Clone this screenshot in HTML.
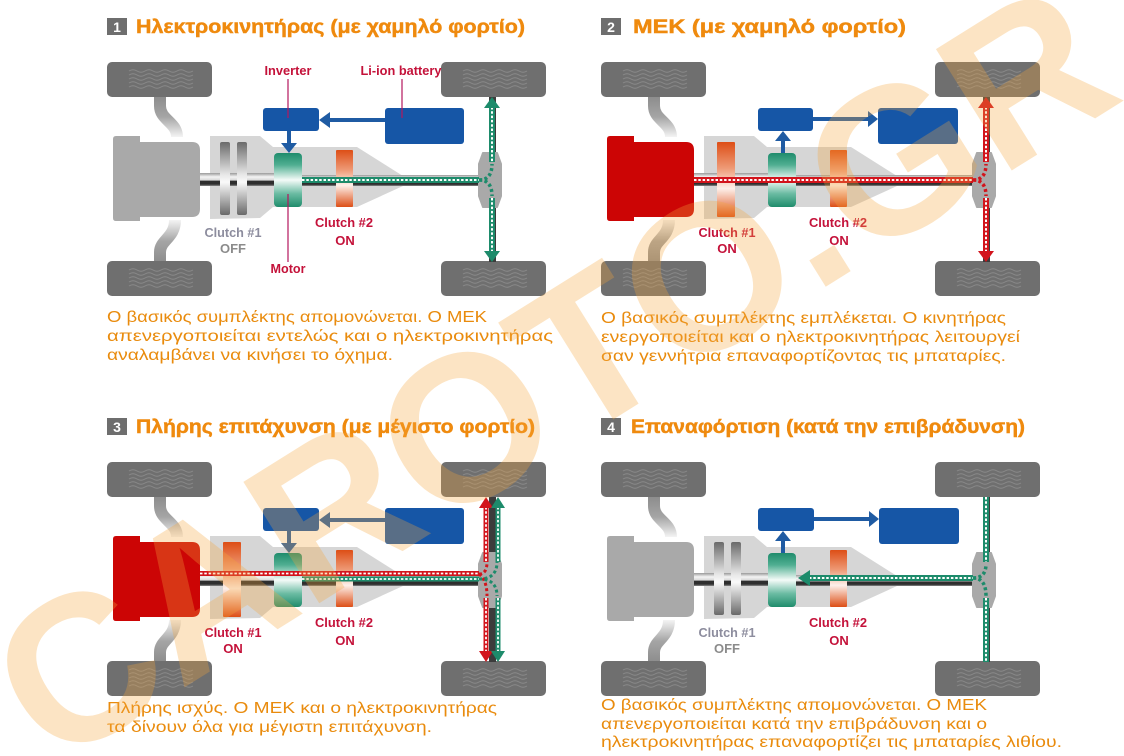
<!DOCTYPE html>
<html><head><meta charset="utf-8">
<style>
html,body{margin:0;padding:0;background:#fff;width:1124px;height:756px;overflow:hidden;}
svg{display:block;}
.t{font-family:"Liberation Sans",sans-serif;font-weight:bold;fill:#ef8a0e;stroke:#ef8a0e;stroke-width:0.45;font-size:19px;}
.p{font-family:"Liberation Sans",sans-serif;fill:#e98b0d;font-size:15.5px;}
.n{font-family:"Liberation Sans",sans-serif;font-weight:bold;fill:#fff;font-size:14px;}
.lb{font-family:"Liberation Sans",sans-serif;font-weight:bold;font-size:13px;}
.lr{fill:#c4123a;}
.lg{fill:#8d8d9e;}
</style></head><body>
<svg width="1124" height="756" viewBox="0 0 1124 756" xmlns="http://www.w3.org/2000/svg" xmlns:xlink="http://www.w3.org/1999/xlink">
<defs>
 <linearGradient id="gTeal" x1="0" y1="0" x2="0" y2="1">
  <stop offset="0" stop-color="#1f8c6c"/>
  <stop offset="0.22" stop-color="#4fae91"/>
  <stop offset="0.5" stop-color="#f4fbf8"/>
  <stop offset="0.75" stop-color="#6cbca3"/>
  <stop offset="1" stop-color="#1f8c6c"/>
 </linearGradient>
 <linearGradient id="gOr" x1="0" y1="0" x2="0" y2="1">
  <stop offset="0" stop-color="#dd4e16"/>
  <stop offset="0.35" stop-color="#ee9a76"/>
  <stop offset="0.62" stop-color="#fdf0ea"/>
  <stop offset="1" stop-color="#dd4e16"/>
 </linearGradient>
 <linearGradient id="gBar" x1="0" y1="0" x2="0" y2="1">
  <stop offset="0" stop-color="#6a6a6a"/>
  <stop offset="0.45" stop-color="#e8e8e8"/>
  <stop offset="0.55" stop-color="#fafafa"/>
  <stop offset="1" stop-color="#6a6a6a"/>
 </linearGradient>
 <linearGradient id="gTube" x1="0" y1="0" x2="0" y2="1">
  <stop offset="0" stop-color="#9a9a9a"/>
  <stop offset="0.3" stop-color="#f4f4f4"/>
  <stop offset="0.55" stop-color="#d8d8d8"/>
  <stop offset="0.62" stop-color="#2e2e2e"/>
  <stop offset="0.85" stop-color="#2e2e2e"/>
  <stop offset="1" stop-color="#8a8a8a"/>
 </linearGradient>
 <linearGradient id="gLT" gradientUnits="userSpaceOnUse" x1="0" y1="35" x2="0" y2="75">
  <stop offset="0" stop-color="#8d8d8d"/>
  <stop offset="0.5" stop-color="#a5a5a5"/>
  <stop offset="1" stop-color="#f4f4f4"/>
 </linearGradient>
 <linearGradient id="gLB" gradientUnits="userSpaceOnUse" x1="0" y1="158" x2="0" y2="200">
  <stop offset="0" stop-color="#f4f4f4"/>
  <stop offset="0.5" stop-color="#a5a5a5"/>
  <stop offset="1" stop-color="#8d8d8d"/>
 </linearGradient>
 <g id="wheel">
  <rect width="105" height="35" rx="5" fill="#6f6f6f"/>
  <path d="M22,9 q4,-2.5 8,0 t8,0 t8,0 t8,0 t8,0 t8,0 t8,0 t8,0 M22,13 q4,-2.5 8,0 t8,0 t8,0 t8,0 t8,0 t8,0 t8,0 t8,0 M22,17 q4,-2.5 8,0 t8,0 t8,0 t8,0 t8,0 t8,0 t8,0 t8,0 M22,21 q4,-2.5 8,0 t8,0 t8,0 t8,0 t8,0 t8,0 t8,0 t8,0 M22,25 q4,-2.5 8,0 t8,0 t8,0 t8,0 t8,0 t8,0 t8,0 t8,0" stroke="#8a8a8a" stroke-width="1" fill="none"/>
 </g>
 <g id="base">
  <path d="M53,35 L53,44 C53,58 70,60 70,75" fill="none" stroke="url(#gLT)" stroke-width="12"/>
  <path d="M68,158 C68,176 53,178 53,190 L53,200" fill="none" stroke="url(#gLB)" stroke-width="12"/>
  <use xlink:href="#wheel" x="0" y="0"/>
  <use xlink:href="#wheel" x="0" y="199"/>
  <use xlink:href="#wheel" x="334" y="0"/>
  <use xlink:href="#wheel" x="334" y="199"/>
  <polygon points="103,74 153,74 166,85 250,85 296,114 296,124 250,145 166,145 153,156 103,157" fill="#d6d6d6"/>
  <rect x="92" y="111" width="80" height="13" fill="url(#gTube)"/>
  <rect x="190" y="113" width="190" height="11" fill="url(#gTube)"/>
  <rect x="382" y="35" width="7" height="165" fill="#3c3c3c"/>
  <path d="M376,91 L390,91 L394,102 L394,134 L390,145 L376,145 L372,134 L372,102 Z" fill="#a9a9a9" stroke="#a9a9a9" stroke-width="2" stroke-linejoin="round"/>
 </g>
 <path id="engine" d="M9,74 L33,74 L33,80 L85,80 Q93,80 93,88 L93,147 Q93,155 85,155 L33,155 L33,159 L9,159 Q6,159 6,156 L6,77 Q6,74 9,74 Z"/>
</defs>

<!-- Titles -->
<rect x="107" y="18" width="20" height="17" fill="#6e6e6e"/><text class="n" x="117" y="32" text-anchor="middle">1</text>
<text class="t" x="136" y="33" textLength="389" lengthAdjust="spacingAndGlyphs">Ηλεκτροκινητήρας (με χαμηλό φορτίο)</text>
<rect x="601" y="18" width="20" height="17" fill="#6e6e6e"/><text class="n" x="611" y="32" text-anchor="middle">2</text>
<text class="t" x="633" y="33" textLength="273" lengthAdjust="spacingAndGlyphs">ΜΕΚ (με χαμηλό φορτίο)</text>
<rect x="107" y="418" width="20" height="17" fill="#6e6e6e"/><text class="n" x="117" y="432" text-anchor="middle">3</text>
<text class="t" x="136" y="433" textLength="399" lengthAdjust="spacingAndGlyphs">Πλήρης επιτάχυνση (με μέγιστο φορτίο)</text>
<rect x="601" y="418" width="20" height="17" fill="#6e6e6e"/><text class="n" x="611" y="432" text-anchor="middle">4</text>
<text class="t" x="631" y="433" textLength="394" lengthAdjust="spacingAndGlyphs">Επαναφόρτιση (κατά την επιβράδυνση)</text>

<!-- Paragraphs -->
<text class="p" x="107" y="322" textLength="380" lengthAdjust="spacingAndGlyphs">Ο βασικός συμπλέκτης απομονώνεται. Ο ΜΕΚ</text>
<text class="p" x="107" y="341" textLength="446" lengthAdjust="spacingAndGlyphs">απενεργοποιείται εντελώς και ο ηλεκτροκινητήρας</text>
<text class="p" x="107" y="360" textLength="286" lengthAdjust="spacingAndGlyphs">αναλαμβάνει να κινήσει το όχημα.</text>

<text class="p" x="601" y="323" textLength="405" lengthAdjust="spacingAndGlyphs">Ο βασικός συμπλέκτης εμπλέκεται. Ο κινητήρας</text>
<text class="p" x="601" y="342" textLength="419" lengthAdjust="spacingAndGlyphs">ενεργοποιείται και ο ηλεκτροκινητήρας λειτουργεί</text>
<text class="p" x="601" y="361" textLength="405" lengthAdjust="spacingAndGlyphs">σαν γεννήτρια επαναφορτίζοντας τις μπαταρίες.</text>

<text class="p" x="107" y="713" textLength="390" lengthAdjust="spacingAndGlyphs">Πλήρης ισχύς. Ο ΜΕΚ και ο ηλεκτροκινητήρας</text>
<text class="p" x="107" y="732" textLength="325" lengthAdjust="spacingAndGlyphs">τα δίνουν όλα για μέγιστη επιτάχυνση.</text>

<text class="p" x="601" y="710" textLength="386" lengthAdjust="spacingAndGlyphs">Ο βασικός συμπλέκτης απομονώνεται. Ο ΜΕΚ</text>
<text class="p" x="601" y="729" textLength="386" lengthAdjust="spacingAndGlyphs">απενεργοποιείται κατά την επιβράδυνση και ο</text>
<text class="p" x="601" y="747" textLength="461" lengthAdjust="spacingAndGlyphs">ηλεκτροκινητήρας επαναφορτίζει τις μπαταρίες λιθίου.</text>

<!-- Panel 1 -->
<g transform="translate(107,62)">
 <use xlink:href="#base"/>
 <use xlink:href="#engine" fill="#a9a9a9"/>
 <rect x="113" y="80" width="10" height="73" rx="2" fill="url(#gBar)"/>
 <rect x="130" y="80" width="10" height="73" rx="2" fill="url(#gBar)"/>
 <rect x="167" y="91" width="28" height="54" rx="4" fill="url(#gTeal)"/>
 <rect x="229" y="88" width="17" height="57" rx="1" fill="url(#gOr)"/>
 <path d="M195,118 H372" stroke="#1d8b6b" stroke-width="6"/>
 <path d="M195,118 H372" stroke="#fff" stroke-width="2" stroke-dasharray="2.5 1.8"/>
 <path d="M372,118 Q385,118 385,102 M372,118 Q385,118 385,134" fill="none" stroke="#1d8b6b" stroke-width="3.5" stroke-dasharray="3 2.5"/>
 <path d="M385,45 V100 M385,136 V190" stroke="#1d8b6b" stroke-width="6"/>
 <path d="M385,45 V100 M385,136 V190" stroke="#fff" stroke-width="2" stroke-dasharray="2.5 1.8"/>
 <polygon points="385,35 377,46 393,46" fill="#1d8b6b"/>
 <polygon points="385,200 377,189 393,189" fill="#1d8b6b"/>
 <rect x="156" y="46" width="56" height="23" rx="3" fill="#1656a6"/>
 <rect x="278" y="46" width="79" height="36" rx="3" fill="#1656a6"/>
 <path d="M278,58 H222" stroke="#1f5ba3" stroke-width="4"/>
 <polygon points="212,58 223,50 223,66" fill="#1f5ba3"/>
 <path d="M182,69 V82" stroke="#1f5ba3" stroke-width="4"/>
 <polygon points="182,91 174,81 190,81" fill="#1f5ba3"/>
 <path d="M181,17 V56 M295,17 V56 M181,132 V200" stroke="#b5175e" stroke-width="1.2"/>
 <text class="lb lr" x="181" y="13" text-anchor="middle" font-size="12.5" textLength="47" lengthAdjust="spacingAndGlyphs">Inverter</text>
 <text class="lb lr" x="294" y="13" text-anchor="middle" font-size="12.5" textLength="81" lengthAdjust="spacingAndGlyphs">Li-ion battery</text>
 <text class="lb lr" x="181" y="211" text-anchor="middle" font-size="12.5" textLength="35" lengthAdjust="spacingAndGlyphs">Motor</text>
 <text class="lb lg" x="126" y="175" text-anchor="middle" textLength="57" lengthAdjust="spacingAndGlyphs">Clutch #1</text>
 <text class="lb" x="126" y="191" text-anchor="middle" font-size="16" fill="#8b8b8b">OFF</text>
 <text class="lb lr" x="237" y="165" text-anchor="middle" textLength="58" lengthAdjust="spacingAndGlyphs">Clutch #2</text>
 <text class="lb lr" x="238" y="183" text-anchor="middle" font-size="16">ON</text>
</g>

<!-- Panel 2 -->
<g transform="translate(601,62)">
 <use xlink:href="#base"/>
 <use xlink:href="#engine" fill="#cc0505"/>
 <rect x="116" y="80" width="18" height="75" rx="1" fill="url(#gOr)"/>
 <rect x="167" y="91" width="28" height="54" rx="4" fill="url(#gTeal)"/>
 <rect x="229" y="88" width="17" height="57" rx="1" fill="url(#gOr)"/>
 <path d="M93,118 H372" stroke="#d2141c" stroke-width="6"/>
 <path d="M93,118 H372" stroke="#fff" stroke-width="2" stroke-dasharray="2.5 1.8"/>
 <path d="M372,118 Q385,118 385,102 M372,118 Q385,118 385,134" fill="none" stroke="#d2141c" stroke-width="3.5" stroke-dasharray="3 2.5"/>
 <path d="M385,45 V100 M385,136 V190" stroke="#d2141c" stroke-width="6"/>
 <path d="M385,45 V100 M385,136 V190" stroke="#fff" stroke-width="2" stroke-dasharray="2.5 1.8"/>
 <polygon points="385,35 377,46 393,46" fill="#d2141c"/>
 <polygon points="385,200 377,189 393,189" fill="#d2141c"/>
 <rect x="157" y="46" width="55" height="23" rx="3" fill="#1656a6"/>
 <rect x="277" y="46" width="80" height="36" rx="3" fill="#1656a6"/>
 <path d="M212,57 H268" stroke="#1f5ba3" stroke-width="4"/>
 <polygon points="277,57 267,49 267,65" fill="#1f5ba3"/>
 <path d="M182,91 V78" stroke="#1f5ba3" stroke-width="4"/>
 <polygon points="182,69 174,79 190,79" fill="#1f5ba3"/>
 <text class="lb lr" x="126" y="175" text-anchor="middle" textLength="57" lengthAdjust="spacingAndGlyphs">Clutch #1</text>
 <text class="lb lr" x="126" y="191" text-anchor="middle" font-size="16">ON</text>
 <text class="lb lr" x="237" y="165" text-anchor="middle" textLength="58" lengthAdjust="spacingAndGlyphs">Clutch #2</text>
 <text class="lb lr" x="238" y="183" text-anchor="middle" font-size="16">ON</text>
</g>

<!-- Panel 3 -->
<g transform="translate(107,462)">
 <use xlink:href="#base"/>
 <use xlink:href="#engine" fill="#cc0505"/>
 <rect x="116" y="80" width="18" height="75" rx="1" fill="url(#gOr)"/>
 <rect x="167" y="91" width="28" height="54" rx="4" fill="url(#gTeal)"/>
 <rect x="229" y="88" width="17" height="57" rx="1" fill="url(#gOr)"/>
 <path d="M93,111.5 H372" stroke="#d2141c" stroke-width="5"/>
 <path d="M93,111.5 H372" stroke="#fff" stroke-width="1.8" stroke-dasharray="2.5 1.8"/>
 <path d="M195,117 H372" stroke="#1d8b6b" stroke-width="5"/>
 <path d="M195,117 H372" stroke="#fff" stroke-width="1.8" stroke-dasharray="2.5 1.8"/>
 <path d="M372,112 Q380,112 380,100 M372,112 Q380,118 380,134" fill="none" stroke="#d2141c" stroke-width="3" stroke-dasharray="3 2.5"/>
 <path d="M372,117 Q390,117 390,100 M372,117 Q390,117 390,134" fill="none" stroke="#1d8b6b" stroke-width="3" stroke-dasharray="3 2.5"/>
 <path d="M379,45 V100 M379,136 V190" stroke="#d2141c" stroke-width="5"/>
 <path d="M379,45 V100 M379,136 V190" stroke="#fff" stroke-width="1.8" stroke-dasharray="2.5 1.8"/>
 <path d="M391,45 V100 M391,136 V190" stroke="#1d8b6b" stroke-width="5"/>
 <path d="M391,45 V100 M391,136 V190" stroke="#fff" stroke-width="1.8" stroke-dasharray="2.5 1.8"/>
 <polygon points="379,35 372,46 386,46" fill="#d2141c"/>
 <polygon points="379,200 372,189 386,189" fill="#d2141c"/>
 <polygon points="391,35 384,46 398,46" fill="#1d8b6b"/>
 <polygon points="391,200 384,189 398,189" fill="#1d8b6b"/>
 <rect x="156" y="46" width="56" height="23" rx="3" fill="#1656a6"/>
 <rect x="278" y="46" width="79" height="36" rx="3" fill="#1656a6"/>
 <path d="M278,58 H222" stroke="#1f5ba3" stroke-width="4"/>
 <polygon points="212,58 223,50 223,66" fill="#1f5ba3"/>
 <path d="M182,69 V82" stroke="#1f5ba3" stroke-width="4"/>
 <polygon points="182,91 174,81 190,81" fill="#1f5ba3"/>
 <text class="lb lr" x="126" y="175" text-anchor="middle" textLength="57" lengthAdjust="spacingAndGlyphs">Clutch #1</text>
 <text class="lb lr" x="126" y="191" text-anchor="middle" font-size="16">ON</text>
 <text class="lb lr" x="237" y="165" text-anchor="middle" textLength="58" lengthAdjust="spacingAndGlyphs">Clutch #2</text>
 <text class="lb lr" x="238" y="183" text-anchor="middle" font-size="16">ON</text>
</g>

<!-- Panel 4 -->
<g transform="translate(601,462)">
 <use xlink:href="#base"/>
 <use xlink:href="#engine" fill="#a9a9a9"/>
 <rect x="113" y="80" width="10" height="73" rx="2" fill="url(#gBar)"/>
 <rect x="130" y="80" width="10" height="73" rx="2" fill="url(#gBar)"/>
 <rect x="167" y="91" width="28" height="54" rx="4" fill="url(#gTeal)"/>
 <rect x="229" y="88" width="17" height="57" rx="1" fill="url(#gOr)"/>
 <path d="M208,116 H372" stroke="#1d8b6b" stroke-width="6"/>
 <path d="M208,116 H372" stroke="#fff" stroke-width="2" stroke-dasharray="2.5 1.8"/>
 <polygon points="197,116 209,108 209,124" fill="#1d8b6b"/>
 <path d="M372,116 Q385,116 385,102 M372,116 Q385,116 385,134" fill="none" stroke="#1d8b6b" stroke-width="3.5" stroke-dasharray="3 2.5"/>
 <path d="M385,35 V100 M385,136 V200" stroke="#1d8b6b" stroke-width="6"/>
 <path d="M385,35 V100 M385,136 V200" stroke="#fff" stroke-width="2" stroke-dasharray="2.5 1.8"/>
 <rect x="157" y="46" width="56" height="23" rx="3" fill="#1656a6"/>
 <rect x="278" y="46" width="80" height="36" rx="3" fill="#1656a6"/>
 <path d="M213,57 H268" stroke="#1f5ba3" stroke-width="4"/>
 <polygon points="278,57 268,49 268,65" fill="#1f5ba3"/>
 <path d="M182,91 V78" stroke="#1f5ba3" stroke-width="4"/>
 <polygon points="182,69 174,79 190,79" fill="#1f5ba3"/>
 <text class="lb lg" x="126" y="175" text-anchor="middle" textLength="57" lengthAdjust="spacingAndGlyphs">Clutch #1</text>
 <text class="lb" x="126" y="191" text-anchor="middle" font-size="16" fill="#8b8b8b">OFF</text>
 <text class="lb lr" x="237" y="165" text-anchor="middle" textLength="58" lengthAdjust="spacingAndGlyphs">Clutch #2</text>
 <text class="lb lr" x="238" y="183" text-anchor="middle" font-size="16">ON</text>
</g>

<!-- Watermark -->
<text x="0" y="0" transform="translate(590,434) rotate(-32)" text-anchor="middle" font-family="Liberation Sans, sans-serif" font-weight="bold" font-size="208" fill="#f6a43a" fill-opacity="0.3">CAROTO.GR</text>
</svg>
</body></html>
